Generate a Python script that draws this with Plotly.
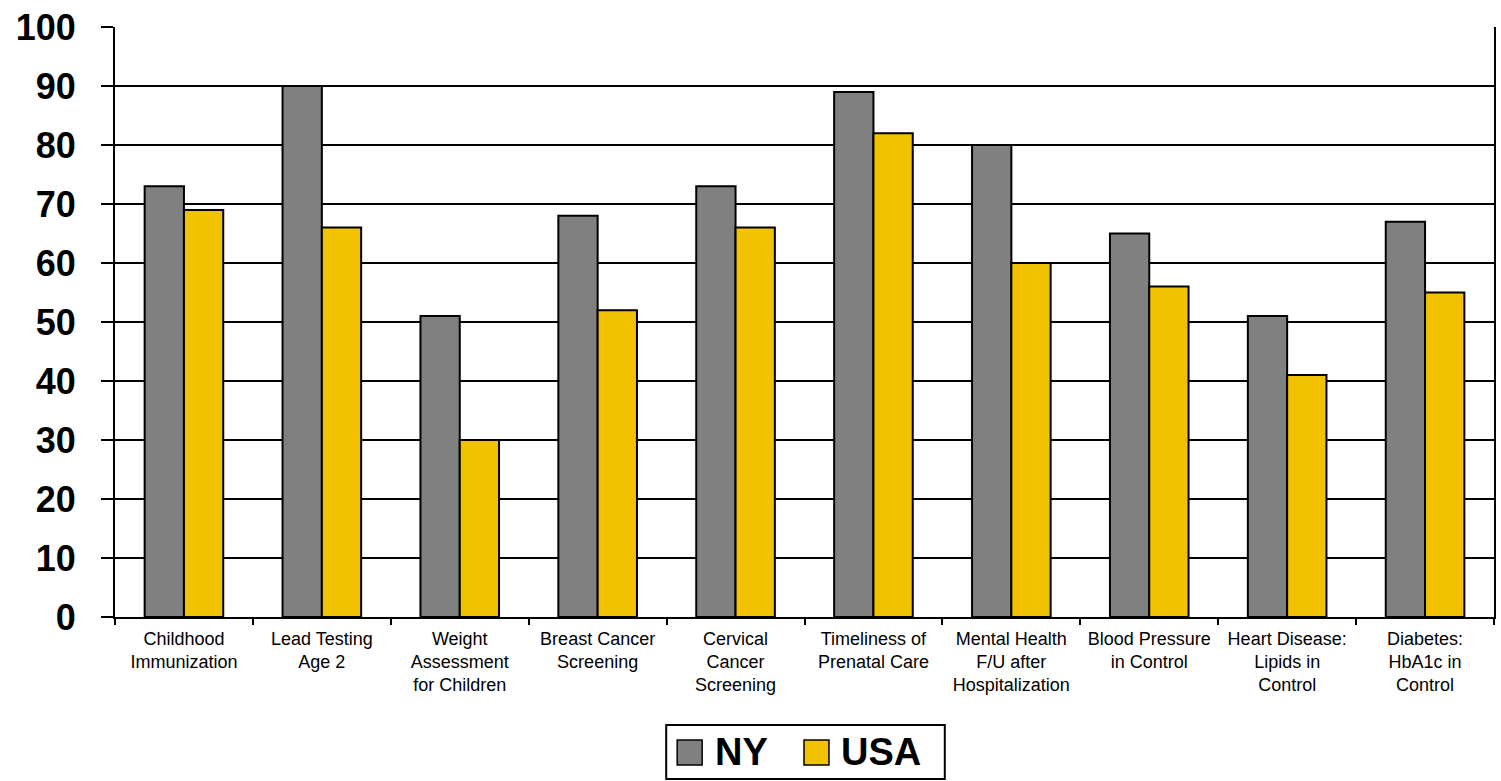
import plotly.graph_objects as go

categories = [
    "Childhood<br>Immunization",
    "Lead Testing<br>Age 2",
    "Weight<br>Assessment<br>for Children",
    "Breast Cancer<br>Screening",
    "Cervical<br>Cancer<br>Screening",
    "Timeliness of<br>Prenatal Care",
    "Mental Health<br>F/U after<br>Hospitalization",
    "Blood Pressure<br>in Control",
    "Heart Disease:<br>Lipids in<br>Control",
    "Diabetes:<br>HbA1c in<br>Control",
]
ny_values = [73, 90, 51, 68, 73, 89, 80, 65, 51, 67]
usa_values = [69, 66, 30, 52, 66, 82, 60, 56, 41, 55]
series_names = ["NY", "USA"]
y_ticks = [0, 10, 20, 30, 40, 50, 60, 70, 80, 90, 100]

GRAY = "#808080"
YELLOW = "#F2C200"

fig = go.Figure()
fig.add_trace(go.Bar(x=categories, y=ny_values, name=series_names[0],
                     marker=dict(color=GRAY, line=dict(color="black", width=2)),
                     showlegend=False))
fig.add_trace(go.Bar(x=categories, y=usa_values, name=series_names[1],
                     marker=dict(color=YELLOW, line=dict(color="black", width=2)),
                     showlegend=False))

fig.update_layout(
    width=1501, height=781,
    margin=dict(l=115, r=5, t=27, b=164),
    paper_bgcolor="white", plot_bgcolor="white",
    barmode="group", bargap=0.43, bargroupgap=0,
    font=dict(family="Liberation Sans, Arial, sans-serif", color="black"),
)
fig.update_xaxes(
    tickson="boundaries", ticks="outside", ticklen=6, tickwidth=2, tickcolor="black",
    showline=True, linecolor="black", linewidth=2,
    tickfont=dict(size=18, color="black"),
    ticklabelstandoff=4,
    showgrid=False,
)
fig.update_yaxes(
    range=[0, 100], tickvals=y_ticks,
    ticks="outside", ticklen=12, tickwidth=2, tickcolor="black",
    showline=True, linecolor="black", linewidth=2, mirror=True,
    showgrid=True, gridcolor="black", gridwidth=2,
    zeroline=False,
    tickfont=dict(size=36, color="black", family="Liberation Sans, Arial, sans-serif", weight="bold"),
    ticklabelstandoff=18,
)

# Legend drawn manually to match large swatches
shapes = [
    dict(type="rect", xref="paper", yref="paper", x0=(667-115)/1381, x1=(946-115)/1381,
         y0=(617-779)/590, y1=(617-725)/590, line=dict(color="black", width=2), fillcolor="white"),
]
swatches = [(678, GRAY), (805, YELLOW)]
label_x = [714, 840]
for (sx, col), lx, name in zip(swatches, label_x, series_names):
    shapes.append(dict(type="rect", xref="paper", yref="paper",
                       x0=(sx-115)/1381, x1=(sx+25-115)/1381,
                       y0=(617-765)/590, y1=(617-740)/590,
                       line=dict(color="black", width=1.5), fillcolor=col))
    fig.add_annotation(xref="paper", yref="paper", x=(lx-115)/1381, y=(617-752)/590,
                       text="<b>%s</b>" % name, showarrow=False, xanchor="left", yanchor="middle",
                       font=dict(size=38, color="black", family="Liberation Sans, Arial, sans-serif"))
fig.update_layout(shapes=shapes)

fig.write_html("out.html")
